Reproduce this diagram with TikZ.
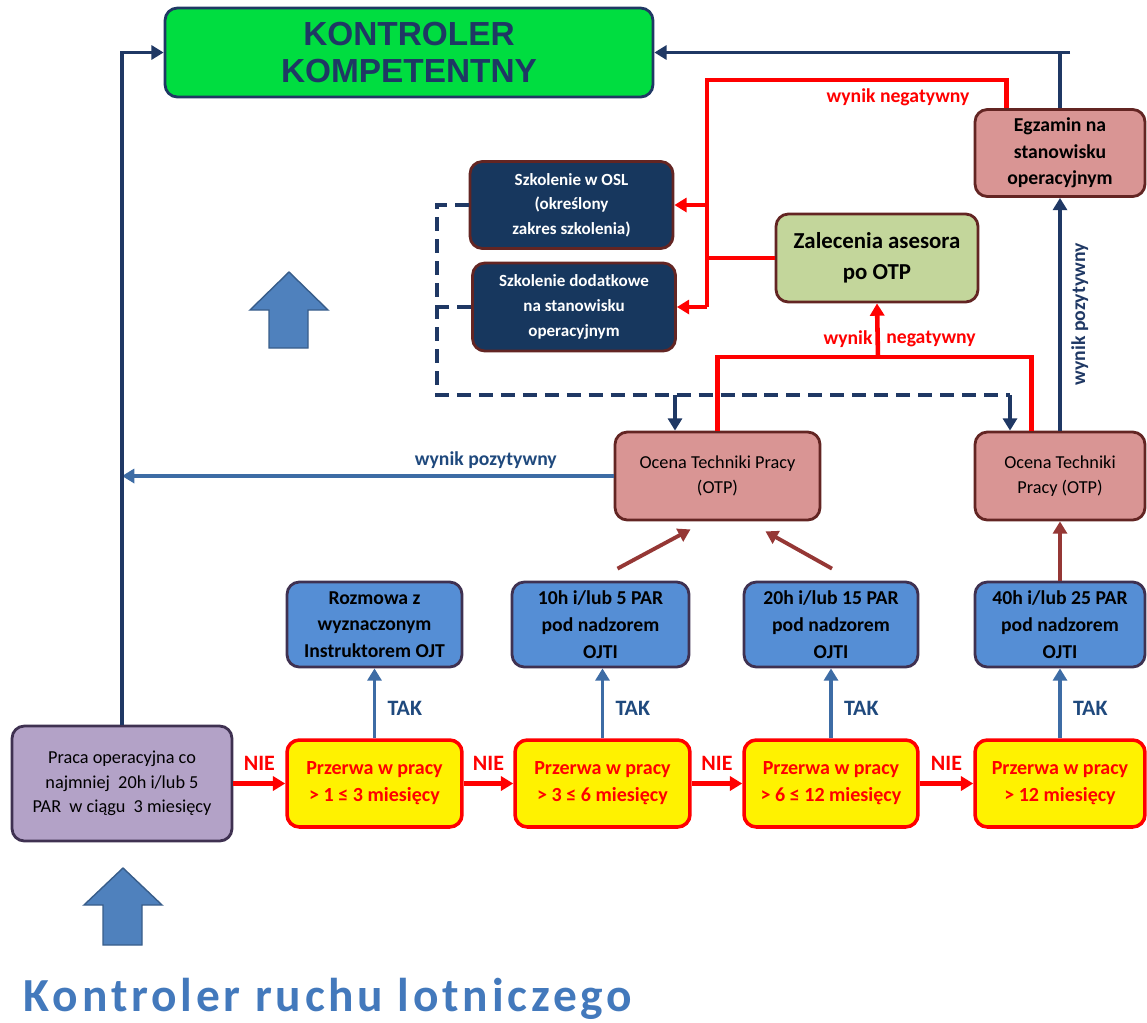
\documentclass[tikz,border=0pt]{standalone}
\usepackage{fontspec}
\setmainfont{Carlito}
\newfontfamily\headfont{Liberation Sans}
\newfontfamily\titlefont[LetterSpace=8]{Carlito}
\usetikzlibrary{positioning, calc, arrows.meta}

\definecolor{clrnavy}{HTML}{1F3864}
\definecolor{clrblueln}{HTML}{3D6CA5}
\definecolor{clrojt}{HTML}{558ED5}
\definecolor{clrpink}{HTML}{D99594}
\definecolor{clrbrown}{HTML}{632523}
\definecolor{clrszk}{HTML}{17375E}
\definecolor{clrolive}{HTML}{C3D69B}
\definecolor{clrlilac}{HTML}{B3A2C7}
\definecolor{clrpurple}{HTML}{3F3151}
\definecolor{clrgreen}{HTML}{00DD40}
\definecolor{clrarrow}{HTML}{953735}
\definecolor{clrblock}{HTML}{4F81BD}
\definecolor{clrblockedge}{HTML}{385D8A}
\definecolor{clrtak}{HTML}{1F497D}
\definecolor{clrtitle}{HTML}{4379BC}

\tikzset{
  box/.style={draw, rounded corners=7pt, line width=1.6pt, align=center, inner sep=2pt},
  przerwa/.style={box, draw=red, fill=yellow, text=red, line width=2pt,
    minimum width=3.5cm, minimum height=1.74cm, font={\bfseries\fontsize{11.4}{15.3}\selectfont}},
  ojt/.style={box, draw=clrpurple, fill=clrojt, minimum width=3.5cm, minimum height=1.7cm,
    font={\bfseries\fontsize{11.2}{15.2}\selectfont}},
  otp/.style={box, draw=clrbrown, fill=clrpink, minimum height=1.76cm,
    font={\fontsize{10.4}{14}\selectfont}},
  szk/.style={box, draw=clrbrown, fill=clrszk, text=white, minimum width=4.06cm,
    minimum height=1.74cm, font={\bfseries\fontsize{9.7}{14}\selectfont}},
  darkln/.style={draw=clrnavy, line width=2.2pt},
  blueln/.style={draw=clrblueln, line width=2.2pt},
  redln/.style={draw=red, line width=2.6pt},
  brownln/.style={draw=clrarrow, line width=2.2pt},
  dashln/.style={draw=clrnavy, line width=2.2pt, dash pattern=on 8pt off 4.5pt},
  lbl/.style={font={\bfseries\fontsize{11.2}{13}\selectfont}},
  biglbl/.style={font={\bfseries\fontsize{12.5}{14}\selectfont}},
  blockarrow/.style={fill=clrblock, draw=clrblockedge, line width=0.8pt}
}

\begin{document}
\begin{tikzpicture}[x=0.02cm, y=-0.02cm, >={Triangle[length=7pt, width=8pt]}]
\useasboundingbox (0,0) rectangle (1147,1022);

% gora
\node[box, draw=clrnavy, fill=clrgreen, text=clrnavy, minimum width=9.76cm, minimum height=1.78cm,
  font={\headfont\bfseries\fontsize{19}{21}\selectfont}] (komp) at (409,52.5) {KONTROLER\\KOMPETENTNY};
\node[otp, font={\bfseries\fontsize{11.2}{15}\selectfont}, minimum width=3.4cm, minimum height=1.74cm] (egz) at (1060,153) {Egzamin na\\stanowisku\\operacyjnym};

% szkolenia i zalecenia
\node[szk] (osl) at (571.5,205) {Szkolenie w OSL\\(określony\\zakres szkolenia)};
\node[szk, minimum height=1.76cm] (dod) at (574,307) {Szkolenie dodatkowe\\na stanowisku\\operacyjnym};
\node[box, draw=clrbrown, fill=clrolive, minimum width=4.04cm, minimum height=1.76cm,
  font={\bfseries\fontsize{13}{17.5}\selectfont}] (zal) at (877,258) {Zalecenia asesora\\po OTP};

% ocena techniki pracy
\node[otp, minimum width=4.1cm] (otp1) at (717.5,476) {Ocena Techniki Pracy\\(OTP)};
\node[otp, minimum width=3.4cm] (otp2) at (1060,476) {Ocena Techniki\\Pracy (OTP)};

% szkolenie pod nadzorem
\node[ojt] (rozm) at (374.5,624.5) {Rozmowa z\\wyznaczonym\\Instruktorem OJT};
\node[ojt, minimum width=3.54cm] (h10) at (600.5,624.5) {10h i/lub 5 PAR\\pod nadzorem\\OJTI};
\node[ojt, minimum width=3.48cm] (h20) at (831,624.5) {20h i/lub 15 PAR\\pod nadzorem\\OJTI};
\node[ojt, minimum width=3.4cm] (h40) at (1060,624.5) {40h i/lub 25 PAR\\pod nadzorem\\OJTI};

% przerwy
\node[box, draw=clrpurple, fill=clrlilac, minimum width=4.4cm, minimum height=2.3cm,
  font={\fontsize{10.4}{14}\selectfont}] (praca) at (122,783.5) {Praca operacyjna co\\najmniej\ \ 20h i/lub 5\\PAR\ \ w ciągu\ \ 3 miesięcy};
\node[przerwa] (p1) at (374.5,783.5) {Przerwa w pracy\\> 1 ≤ 3 miesięcy};
\node[przerwa] (p2) at (602.5,783.5) {Przerwa w pracy\\> 3 ≤ 6 miesięcy};
\node[przerwa, minimum width=3.48cm] (p3) at (831,783.5) {Przerwa w pracy\\> 6 ≤ 12 miesięcy};
\node[przerwa, minimum width=3.4cm] (p4) at (1060,783.5) {Przerwa w pracy\\> 12 miesięcy};

% NIE
\draw[redln, ->] (praca.east) -- (p1.west) node[midway, above, biglbl, text=red, yshift=3pt] {NIE};
\draw[redln, ->] (p1.east) -- (p2.west) node[midway, above, biglbl, text=red, yshift=3pt] {NIE};
\draw[redln, ->] (p2.east) -- (p3.west) node[midway, above, biglbl, text=red, yshift=3pt] {NIE};
\draw[redln, ->] (p3.east) -- (p4.west) node[midway, above, biglbl, text=red, yshift=3pt] {NIE};

% TAK
\draw[blueln, ->] (p1.north) -- (rozm.south) node[midway, right, biglbl, text=clrtak, xshift=3pt, yshift=-3pt] {TAK};
\draw[blueln, ->] (p2.north) -- (p2.north |- h10.south) node[midway, right, biglbl, text=clrtak, xshift=3pt, yshift=-3pt] {TAK};
\draw[blueln, ->] (p3.north) -- (h20.south) node[midway, right, biglbl, text=clrtak, xshift=3pt, yshift=-3pt] {TAK};
\draw[blueln, ->] (p4.north) -- (h40.south) node[midway, right, biglbl, text=clrtak, xshift=3pt, yshift=-3pt] {TAK};

% do OTP
\draw[brownln, ->] ($(h10.north)+(17,-12)$) -- ($(otp1.south)+(-27,8)$);
\draw[brownln, ->] ($(h20.north)+(1,-12)$) -- ($(otp1.south)+(48,10)$);
\draw[brownln, ->] (h40.north) -- (otp2.south);

% wynik pozytywny
\draw[blueln, ->] (otp1.west) -- (otp1.west -| praca.north) node[pos=0.26, above, lbl, text=clrtak] {wynik pozytywny};
\draw[darkln, ->] (praca.north) |- (komp.west);
\draw[darkln, ->] (otp2.north) -- (egz.south) node[midway, lbl, text=clrnavy, rotate=90, anchor=north, yshift=-2pt] {wynik pozytywny};
\coordinate (egzTop) at (egz.north |- komp.east);
\draw[darkln] (egz.north) -- (egzTop);
\draw[darkln, ->] ($(egzTop)+(10,0)$) -- (komp.east);

% wynik negatywny
\coordinate (rTop) at (707,80);
\coordinate (egzR) at ($(egz.north west)+(33,0)$);
\draw[redln] (egzR) |- (rTop) -- (rTop |- dod.east);
\draw[redln, ->] (rTop |- osl.east) -- (osl.east);
\draw[redln, ->] (rTop |- dod.east) -- (dod.east);
\draw[redln] (zal.west) -- (zal.west -| rTop);
\node[lbl, text=red] (neg1) at (898,97) {wynik negatywny};

\coordinate (rMid) at (878,357);
\coordinate (otp2R) at ($(otp2.north west)+(58,0)$);
\draw[redln] (otp1.north) |- (otp2R |- rMid) -- (otp2R);
\draw[redln, ->] (rMid) -- (zal.south);
\node[lbl, text=red] (neg2a) at (848,339) {wynik};
\node[lbl, text=red] (neg2b) at (931,339) {negatywny};

% powrot do OTP
\coordinate (dL) at (437,395);
\coordinate (dA) at (675,395);
\coordinate (dB) at (1010,395);
\draw[dashln] (osl.west) -| (dL) -- (dB);
\draw[dashln] (dod.west) -- (dod.west -| dL);
\draw[darkln, ->] (dA) -- (dA |- otp1.north);
\draw[darkln, ->] (dB) -- (dB |- otp2.north);

% strzalki blokowe
\draw[blockarrow] (123,868) -- (162,905) -- (142,905) -- (142,945) -- (103,945) -- (103,905) -- (84,905) -- cycle;
\draw[blockarrow] (289,272) -- (328,310) -- (308,310) -- (308,348) -- (269,348) -- (269,310) -- (250,310) -- cycle;

\node[font={\titlefont\bfseries\fontsize{27}{32}\selectfont}, text=clrtitle] (title) at (328,999) {Kontroler ruchu lotniczego};
\end{tikzpicture}
\end{document}
